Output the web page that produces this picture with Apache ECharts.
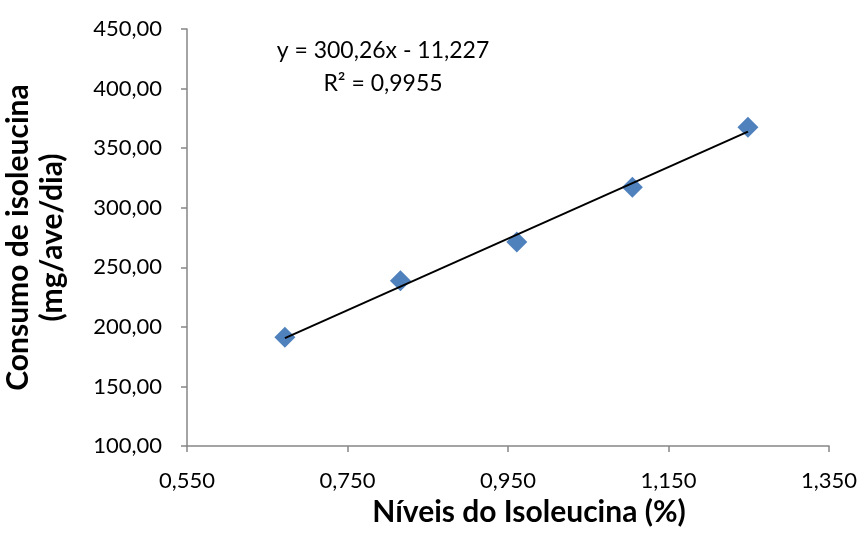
<!DOCTYPE html>
<html>
<head>
<meta charset="utf-8">
<script src="https://cdn.jsdelivr.net/npm/echarts@6/dist/echarts.min.js"></script>
<style>html,body{margin:0;padding:0;background:#fff}#c{width:861px;height:539px}</style>
</head>
<body>
<div id="c"></div>
<script>
var niveis = [0.672, 0.816, 0.961, 1.105, 1.249];
var consumo = [191.2, 238.7, 271.2, 317.1, 367.5];
var trendX = [0.672, 1.249];
var trendY = [190.5, 363.8];
var eqText = 'y = 300,26x - 11,227';
var r2Text = 'R² = 0,9955';
var xTitle = 'Níveis do Isoleucina (%)';
var yTitle = 'Consumo de isoleucina\n(mg/ave/dia)';

var font = 'Lato, "Open Sans", sans-serif';
var chart = echarts.init(document.getElementById('c'));
chart.setOption({
  animation: false,
  grid: {left: 187, right: 32, top: 29, bottom: 93, containLabel: false, outerBoundsMode: 'none'},
  xAxis: {
    type: 'value', min: 0.55, max: 1.35, interval: 0.2,
    name: xTitle, nameLocation: 'middle', nameGap: 30,
    nameTextStyle: {fontFamily: font, fontSize: 30, fontWeight: 'bold', color: '#000', padding: [0, 0, 0, 42]},
    axisLine: {show: true, lineStyle: {color: '#868686', width: 1.5}},
    axisTick: {show: true, length: 6, lineStyle: {color: '#868686', width: 1.5}},
    splitLine: {show: false},
    axisLabel: {fontFamily: font, fontSize: 22, color: '#000', margin: 24,
      formatter: function (v) { return v.toFixed(3).replace('.', ','); }}
  },
  yAxis: {
    type: 'value', min: 100, max: 450, interval: 50,
    name: yTitle, nameLocation: 'middle', nameGap: 118, nameRotate: 90,
    nameTextStyle: {fontFamily: font, fontSize: 30, fontWeight: 'bold', color: '#000', lineHeight: 34},
    axisLine: {show: true, lineStyle: {color: '#868686', width: 1.5}},
    axisTick: {show: true, length: 6, lineStyle: {color: '#868686', width: 1.5}},
    splitLine: {show: false},
    axisLabel: {fontFamily: font, fontSize: 22, color: '#000', margin: 25,
      formatter: function (v) { return v.toFixed(2).replace('.', ','); }}
  },
  series: [
    {
      type: 'line', data: trendX.map(function (x, i) { return [x, trendY[i]]; }),
      showSymbol: false, lineStyle: {color: '#000', width: 2}, z: 3
    },
    {
      type: 'scatter', data: niveis.map(function (x, i) { return [x, consumo[i]]; }),
      symbol: 'diamond', symbolSize: 21, itemStyle: {color: '#4F81BD', opacity: 1}, z: 2
    }
  ],
  graphic: [
    {type: 'text', x: 383, y: 51, style: {text: eqText, font: '23px ' + font, fill: '#000', align: 'center', verticalAlign: 'middle'}},
    {type: 'text', x: 383, y: 84, style: {text: r2Text, font: '23px ' + font, fill: '#000', align: 'center', verticalAlign: 'middle'}}
  ]
});
</script>
</body>
</html>
